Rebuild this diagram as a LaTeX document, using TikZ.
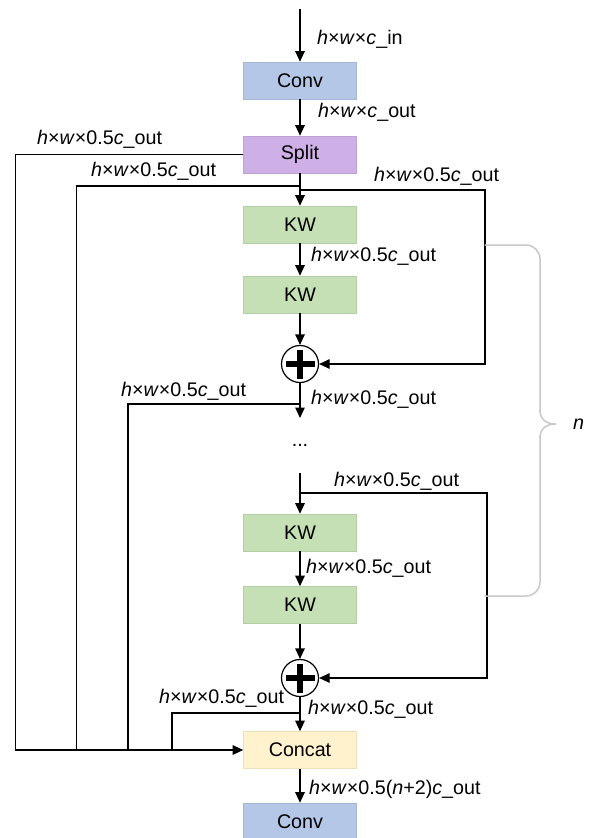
\documentclass[tikz,border=0pt]{standalone}
\usepackage{fontspec}
\setmainfont{Liberation Sans}
\usetikzlibrary{arrows.meta}
\definecolor{convblue}{HTML}{B4C7E7}
\definecolor{splitpurple}{HTML}{CFB0E6}
\definecolor{kwgreen}{HTML}{C5E0B4}
\definecolor{concatyellow}{HTML}{FFF2CC}
\definecolor{bracegray}{HTML}{C8C8C8}
\newcommand{\shapelabel}[1]{\textit{h}×\textit{w}×#1}
\begin{document}
\begin{tikzpicture}[x=1pt,y=-1pt,
  font=\fontsize{19.7}{23}\selectfont,
  block/.style={minimum width=113pt,minimum height=37pt,inner sep=0pt,
    fill=#1,draw=#1!92!black,line width=0.6pt},
  flow/.style={line width=1.2pt,-{Triangle[length=10.5pt,width=9.5pt]}},
  wire/.style={line width=1.2pt},
  size/.style={anchor=west,inner sep=0pt},
  adder/.style={circle,draw,line width=1.2pt,minimum size=37pt,inner sep=0pt},
  bracestyle/.style={draw=bracegray,line width=1.5pt,line cap=round}]
\useasboundingbox (0,0) rectangle (592,838);

% main column
\coordinate (in) at (300,9);
\node[block=convblue]     (conv1)  at (300,80.5)  {Conv};
\node[block=splitpurple]  (split)  at (300,154.5) {Split};
\node[block=kwgreen]      (kw1)    at (300,224.5) {KW};
\node[block=kwgreen]      (kw2)    at (300,294.5) {KW};
\node[adder]              (p1)     at (300,364)   {};
\coordinate (o1) at (300,418);
\node[inner sep=0pt]      (dots)   at (300,445)   {...};
\coordinate (s2) at (300,473);
\node[block=kwgreen]      (kw3)    at (300,532.5) {KW};
\node[block=kwgreen]      (kw4)    at (300,605)   {KW};
\node[adder]              (p2)     at (300,678)   {};
\node[block=concatyellow] (concat) at (300,750)   {Concat};
\node[block=convblue]     (conv2)  at (300,821.5) {Conv};

% plus signs
\foreach \p in {p1,p2}{
  \draw[line width=6.5pt] ([xshift=-14.5pt]\p.center) -- ([xshift=14.5pt]\p.center);
  \draw[line width=6.5pt] ([yshift=-14.5pt]\p.center) -- ([yshift=14.5pt]\p.center);
}

% taps and corners
\coordinate (b1) at (300,186);
\coordinate (b2) at (300,190);
\coordinate (b3) at (300,404);
\coordinate (b4) at (300,493);
\coordinate (b5) at (300,713);
\coordinate (j1) at (15.5,750);
\coordinate (j2) at (76.5,750);
\coordinate (j3) at (128,750);
\coordinate (j4) at (172,750);
\coordinate (r1) at (485,364);
\coordinate (r2) at (487,678);

% vertical flow
\draw[flow] (in) -- (conv1);
\draw[flow] (conv1) -- (split);
\draw[flow] (split) -- (kw1);
\draw[flow] (kw1) -- (kw2);
\draw[flow] (kw2) -- (p1);
\draw[flow] (p1) -- (o1);
\draw[flow] (s2) -- (kw3);
\draw[flow] (kw3) -- (kw4);
\draw[flow] (kw4) -- (p2);
\draw[flow] (p2) -- (concat);
\draw[flow] (concat) -- (conv2);

% residual paths
\draw[flow] (b2) -| (r1) -- (p1.east);
\draw[flow] (b4) -| (r2) -- (p2.east);

% paths into the concatenation
\draw[flow] (split.west) -| (j1) -- (concat.west);
\draw[wire] (b1) -| (j2);
\draw[wire] (b3) -| (j3);
\draw[wire] (b5) -| (j4);

% tensor sizes
\node[size] (t1)  at (317,39)  {\shapelabel{\textit{c}\_in}};
\node[size] (t2)  at (318,112) {\shapelabel{\textit{c}\_out}};
\node[size] (t3)  at (37,139)  {\shapelabel{0.5\textit{c}\_out}};
\node[size] (t4)  at (91,171)  {\shapelabel{0.5\textit{c}\_out}};
\node[size] (t5)  at (374,176) {\shapelabel{0.5\textit{c}\_out}};
\node[size] (t6)  at (311,256) {\shapelabel{0.5\textit{c}\_out}};
\node[size] (t7)  at (121,391) {\shapelabel{0.5\textit{c}\_out}};
\node[size] (t8)  at (311,399) {\shapelabel{0.5\textit{c}\_out}};
\node[size] (t9)  at (334,481) {\shapelabel{0.5\textit{c}\_out}};
\node[size] (t10) at (306,568) {\shapelabel{0.5\textit{c}\_out}};
\node[size] (t11) at (159,698) {\shapelabel{0.5\textit{c}\_out}};
\node[size] (t12) at (308,709) {\shapelabel{0.5\textit{c}\_out}};
\node[size] (t13) at (309,789) {\shapelabel{0.5(\textit{n}+2)\textit{c}\_out}};

% repetition brace
\draw[bracestyle,rounded corners=14pt] (485,245) -| (540,412);
\draw[bracestyle] (540,410) .. controls (540,420) and (547,424) .. (556,424)
  .. controls (547,424) and (540,428) .. (540,438);
\draw[bracestyle,rounded corners=14pt] (540,436) |- (485,596);
\node[size] (rep) at (573,424) {\textit{n}};
\end{tikzpicture}
\end{document}
